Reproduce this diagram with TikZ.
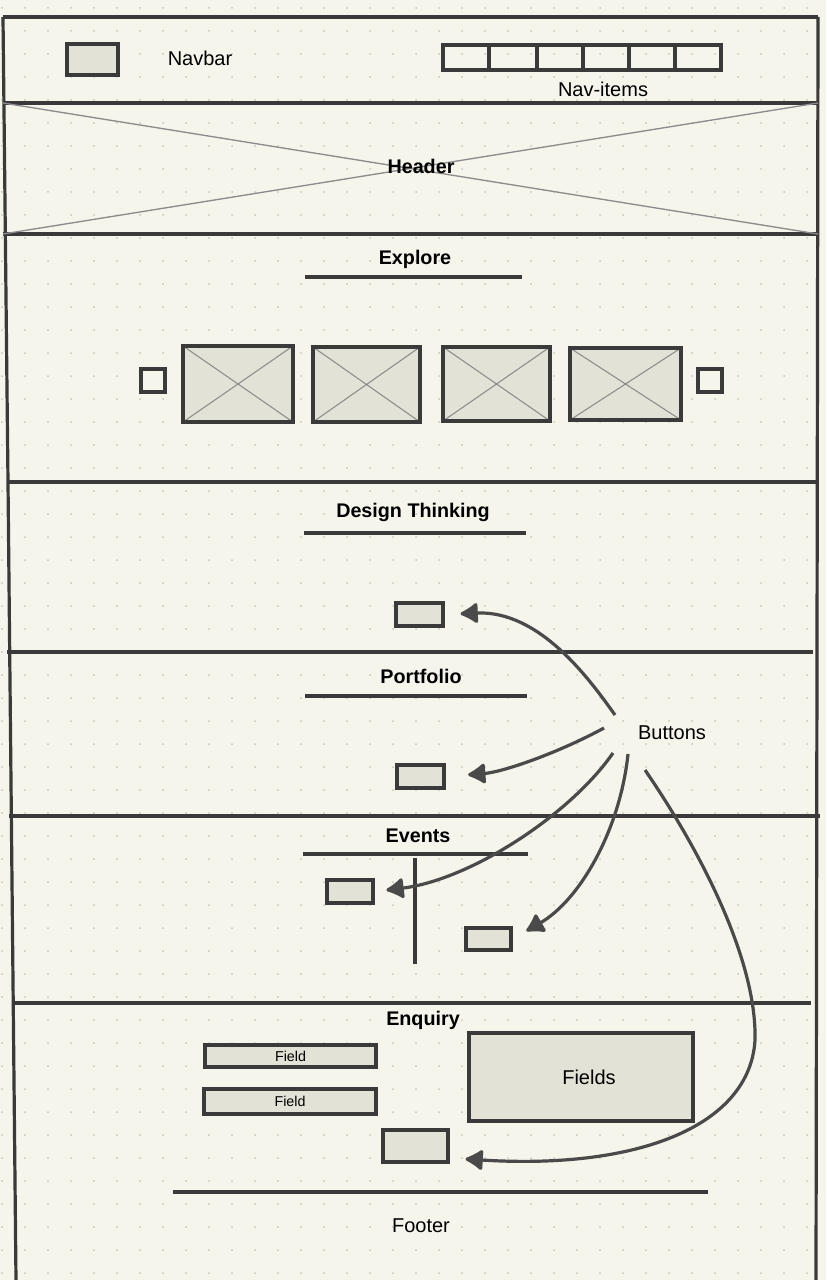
\documentclass[tikz,border=0pt]{standalone}
\usepackage{fontspec}
\setmainfont{Liberation Sans}
\usetikzlibrary{fit,arrows.meta}
\definecolor{bgc}{HTML}{F5F5EB}
\definecolor{boxc}{HTML}{E2E2D6}
\definecolor{ink}{HTML}{3A3A3A}
\definecolor{arr}{HTML}{4A4A4A}
\definecolor{crossc}{HTML}{8C8C8C}
\definecolor{dotc}{HTML}{C6C6BA}
\begin{document}
\begin{tikzpicture}[x=0.75pt,y=-0.75pt,
  sec/.style={draw=ink,line width=2.4pt},
  box/.style={draw=ink,fill=boxc,line width=2.3pt,inner sep=0pt},
  xbox/.style={box,path picture={\draw[crossc,line width=0.8pt]
      (path picture bounding box.north west)--(path picture bounding box.south east)
      (path picture bounding box.south west)--(path picture bounding box.north east);}},
  hd/.style={font=\fontsize{14.8}{17}\selectfont\bfseries,inner sep=0pt},
  lbl/.style={font=\fontsize{15}{18}\selectfont,inner sep=0pt},
  sml/.style={font=\fontsize{10.7}{12}\selectfont,inner sep=0pt},
  ul/.style={draw=ink,line width=2.3pt},
  arrow/.style={draw=arr,line width=2.4pt,-{Latex[round,length=15pt,width=18pt]}}]
\useasboundingbox (0,0) rectangle (826,1280);
\fill[bgc] (0,0) rectangle (826,1280);
\foreach \i in {0,...,35}{\foreach \j in {0,...,55}{\fill[dotc] (2+23*\i,8+23*\j) circle (0.75pt);}}
% outer frame
\draw[sec] (3,17) -- (818,17);
\draw[sec] (3,17) -- (8,482) -- (16,1280);
\draw[sec] (818,17) -- (816,1280);
% section lines
\draw[sec] (3,103) -- (818,103);
\draw[sec] (3,234) -- (818,234);
\draw[sec] (8,482) -- (816,482);
\draw[sec] (7,652) -- (813,652);
\draw[sec] (9,816) -- (820,816);
\draw[sec] (15,1003) -- (811,1003);
% navbar
\node[box,fit={(67,44) (118,75)}] (logo) {};
\node[lbl] (navbar) at (200,58) {Navbar};
\node[draw=ink,line width=2.3pt,inner sep=0pt,fit={(443,45) (721,70)}] (navitems) {};
\foreach \xx in {489,537,583,629,675}{\draw[ink,line width=2.3pt] (\xx,45) -- (\xx,70);}
\node[lbl] (navlbl) at (603,89) {Nav-items};
% header
\draw[crossc,line width=1pt] (3,103) -- (818,234) (3,234) -- (818,103);
\node[hd] (header) at (421,166) {Header};
% explore
\node[hd] (explore) at (415,259) {Explore};
\draw[ul] (305,277) -- (522,277);
\node[box,fill=bgc,fit={(141,369) (165,392)}] (prev) {};
\node[box,fill=bgc,fit={(698,369) (722,392)}] (next) {};
\node[xbox,fit={(183,346) (293,422)}] (img1) {};
\node[xbox,fit={(313,347) (420,422)}] (img2) {};
\node[xbox,fit={(443,347) (550,421)}] (img3) {};
\node[xbox,fit={(570,348) (681,420)}] (img4) {};
% design thinking
\node[hd] (design) at (413,512) {Design Thinking};
\draw[ul] (304,533) -- (526,533);
\node[box,fit={(396,603) (443,626)}] (b1) {};
% portfolio
\node[hd] (portfolio) at (421,676) {Portfolio};
\draw[ul] (305,696) -- (527,696);
\node[box,fit={(397,765) (444,788)}] (b2) {};
% events
\node[hd] (events) at (418,836) {Events};
\draw[ul] (303,854) -- (528,854);
\draw[ul] (415,858) -- (415,964);
\node[box,fit={(327,880) (373,903)}] (b3) {};
\node[box,fit={(466,928) (511,950)}] (b4) {};
% enquiry
\node[hd] (enquiry) at (423,1020) {Enquiry};
\node[box,fit={(205,1045) (376,1067)}] (f1) {};
\node[sml] (f1t) at (f1.center) {Field};
\node[box,fit={(204,1089) (376,1114)}] (f2) {};
\node[sml] (f2t) at (f2.center) {Field};
\node[box,fit={(469,1033) (693,1121)}] (fields) {};
\node[lbl] (fieldst) at (589,1077) {Fields};
\node[box,fit={(383,1130) (448,1162)}] (b5) {};
\draw[ul] (173,1192) -- (708,1192);
\node[lbl] (footer) at (421,1226) {Footer};
% buttons label and arrows
\node[lbl] (buttons) at (672,733) {Buttons};
\coordinate (s1) at (615,715);
\coordinate (s2) at (604,728);
\coordinate (s3) at (613,753);
\coordinate (s4) at (628,754);
\coordinate (s5) at (645,770);
\coordinate (k5) at (755,1040);
\draw[arrow,shorten >=12pt] (s1) .. controls (590,680) and (540,610) .. (b1.east);
\draw[arrow,shorten >=17pt] (s2) .. controls (560,752) and (504,772) .. (b2.east);
\draw[arrow,shorten >=9pt] (s3) .. controls (570,815) and (470,880) .. (b3.east);
\draw[arrow,shorten >=12pt] (s4) .. controls (620,830) and (580,900) .. (b4.east);
\draw[arrow,shorten >=12pt] (s5) .. controls (700,850) and (757,960) .. (k5) .. controls (750,1125) and (640,1170) .. (b5.east |- 0,1158);
\end{tikzpicture}
\end{document}
